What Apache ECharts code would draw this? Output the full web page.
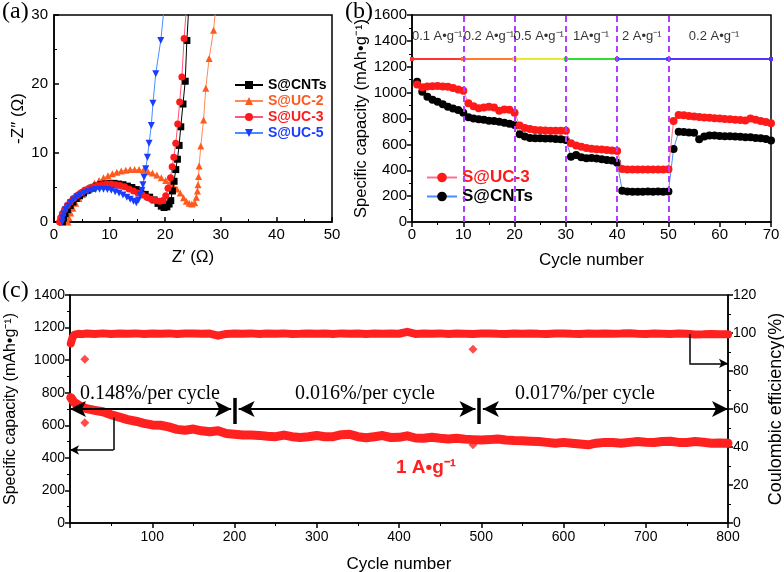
<!DOCTYPE html>
<html><head><meta charset="utf-8">
<script src="https://cdn.jsdelivr.net/npm/echarts/dist/echarts.min.js"></script>
<style>html,body{margin:0;padding:0;background:#fff}#c{width:784px;height:572px}</style>
</head><body><div id="c"></div><script>
// ---------- Panel (a): Nyquist data [Z', -Z''] ----------
const eisCNTs = [[1.5,0],[1.7,0.6],[2.0,1.2],[2.4,1.8],[2.9,2.4],[3.4,2.9],[4.0,3.4],[4.6,3.8],[5.3,4.2],[6.0,4.6],[6.8,4.9],[7.6,5.2],[8.4,5.4],[9.2,5.5],[10.0,5.6],[10.8,5.6],[11.6,5.5],[12.4,5.4],[13.2,5.2],[14.0,5.0],[14.8,4.7],[15.6,4.4],[16.4,4.0],[17.2,3.6],[18.0,3.2],[18.7,2.7],[19.3,2.3],[19.8,2.1],[20.3,2.2],[20.7,2.6],[21.0,3.1],[21.3,4.5],[21.6,5.9],[21.9,7.6],[22.2,9.1],[22.5,11.1],[22.8,13.8],[23.2,17.1],[23.6,20.4],[23.9,26.3],[24.3,32]];
const eisUC2 = [[2.5,0],[2.7,0.6],[3.0,1.3],[3.4,2.0],[3.9,2.7],[4.5,3.4],[5.1,4.0],[5.8,4.6],[6.5,5.1],[7.3,5.6],[8.1,6.0],[8.9,6.4],[9.7,6.7],[10.5,7.0],[11.3,7.2],[12.1,7.4],[12.9,7.5],[13.7,7.6],[14.5,7.6],[15.3,7.6],[16.1,7.5],[16.9,7.3],[17.7,7.1],[18.5,6.8],[19.3,6.4],[20.1,6.0],[20.8,5.6],[21.5,5.2],[22.1,4.8],[22.7,4.2],[23.3,3.5],[23.8,3.0],[24.3,2.7],[24.8,2.6],[25.3,2.8],[25.6,3.6],[25.8,4.5],[25.9,5.4],[26.0,6.6],[26.1,8.1],[26.4,11.0],[26.9,14.8],[27.3,19.4],[27.9,23.7],[28.7,27.8],[29.2,32]];
const eisUC3 = [[1.0,0],[1.2,0.6],[1.5,1.2],[1.9,1.8],[2.4,2.4],[2.9,2.9],[3.5,3.4],[4.1,3.8],[4.8,4.2],[5.5,4.6],[6.3,4.9],[7.1,5.1],[7.9,5.3],[8.7,5.4],[9.5,5.5],[10.3,5.5],[11.1,5.4],[11.9,5.3],[12.7,5.1],[13.5,4.8],[14.3,4.5],[15.1,4.2],[15.9,3.9],[16.7,3.6],[17.5,3.3],[18.3,3.1],[19.0,3.0],[19.6,3.1],[20.1,3.8],[20.5,4.9],[20.95,6.4],[21.25,8.0],[21.55,9.4],[21.9,11.4],[22.25,14.2],[22.6,17.4],[23.0,21.0],[23.4,26.6],[23.9,32]];
const eisUC5 = [[1.5,0],[1.6,0.6],[1.8,1.2],[2.1,1.8],[2.5,2.3],[3.0,2.8],[3.5,3.2],[4.1,3.6],[4.7,3.9],[5.4,4.2],[6.1,4.4],[6.8,4.6],[7.5,4.7],[8.2,4.75],[8.9,4.75],[9.6,4.7],[10.3,4.6],[11.0,4.4],[11.7,4.2],[12.4,3.9],[13.1,3.6],[13.7,3.3],[14.3,3.0],[14.8,2.8],[15.2,3.2],[15.5,3.9],[15.8,4.6],[16.0,5.4],[16.2,6.5],[16.5,7.7],[16.8,9.4],[17.1,11.4],[17.5,14.0],[17.8,17.2],[18.3,21.5],[19.2,26.3],[19.8,31]];

// ---------- Panel (b): rate capability, cycles 1..70 ----------
const rateUC3 = [1062,1042,1048,1050,1052,1048,1045,1035,1025,1014, 918,895,880,885,890,885,860,870,868,845, 745,726,718,712,710,708,706,705,705,706, 608,592,582,572,566,562,560,556,552,549, 410,405,405,405,405,405,405,405,405,408, 781,827,825,820,815,812,808,805,802,800, 797,795,790,788,785,800,790,780,772,763];
const rateCNTs = [1085,1007,969,945,930,910,891,878,866,845, 809,800,794,790,783,780,775,768,760,750, 678,660,650,647,647,645,645,642,640,634, 505,518,500,492,495,490,485,480,475,458, 242,235,234,234,234,235,234,235,234,236, 564,698,695,692,690,639,660,668,668,665, 663,662,660,658,655,655,650,648,642,630];
const rateEdges = [0,10,20,30,40,50,70];
const rateLevel = 1260;
const rateColors = ['#ff3333','#ff7a2a','#e8e830','#33dd33','#3355ff','#5533ff'];
const rateLabels = ['0.1 A•g⁻¹','0.2 A•g⁻¹','0.5 A•g⁻¹','1A•g⁻¹','2 A•g⁻¹','0.2 A•g⁻¹'];
const rateLabelX = [4.9,15,24.7,34.9,44.8,58.9];
const rateLabelY = 1432;

// ---------- Panel (c): long cycling at 1 A/g ----------
const cCycles = [1,3,5,10,15,20,30,40,50,60,70,80,90,100,110,120,130,140,150,160,170,180,190,200,210,220,230,240,250,260,270,280,290,300,310,320,330,340,350,360,370,380,390,400,410,420,430,440,450,460,470,480,490,500,510,520,530,540,550,560,570,580,590,600,610,620,630,640,650,660,670,680,690,700,710,720,730,740,750,760,770,780,790,800];
const cCapacity = [770,755,740,725,712,702,692,683,665,650,635,625,612,602,600,590,575,570,577,566,560,566,550,545,540,540,538,533,530,540,530,525,530,537,530,530,542,545,530,523,530,537,525,526,535,522,520,526,520,516,520,515,512,510,512,516,510,506,505,502,500,495,490,495,490,485,480,490,495,494,490,495,500,496,494,500,502,495,494,500,496,490,491,490];
const cCE = [94.5,97.5,99.0,99.6,99.4,99.7,99.5,99.8,99.5,99.7,99.6,99.8,99.5,99.7,99.6,99.8,99.5,99.7,99.8,99.6,99.7,98.6,99.5,99.7,99.6,99.8,99.5,99.7,99.6,99.8,99.5,99.6,99.8,99.6,99.7,99.5,99.8,99.6,99.7,99.5,99.7,99.6,99.8,99.6,100.6,99.5,99.7,99.6,99.8,99.5,99.7,99.6,99.5,99.7,99.8,99.6,99.5,99.7,99.6,99.8,99.6,99.5,99.7,99.8,99.6,99.5,99.7,99.6,99.8,99.6,99.7,99.9,99.6,99.5,99.7,99.6,99.5,99.7,99.6,99.2,99.3,99.5,99.4,99.3];
const capOutliers = [[18,615],[490,480]];
const ceOutliers = [[18,86.2],[490,91.4]];
const segBreaks = [0,200,497,800];
const segTexts = ['0.148%/per cycle','0.016%/per cycle','0.017%/per cycle'];
const arrowLevel = 700;

const FONT = '"Liberation Sans", Arial, Helvetica, sans-serif';
const SERIF = '"Liberation Serif", "Times New Roman", serif';

function mkAxis(p){
  return {
    type:'value', gridIndex:p.g, min:p.min, max:p.max, interval:p.iv, position:p.pos,
    name:p.name||'', nameLocation:'middle', nameGap:p.gap||0, nameRotate:p.rot,
    nameTextStyle:{color:'#000', fontSize:p.nfs||17, fontFamily:FONT},
    axisLine:{show:true,onZero:false,lineStyle:{color:'#000',width:1.5}},
    axisTick:{show:true,inside:!!p.inside,length:5,lineStyle:{color:'#000',width:1.5}},
    minorTick:{show:true,splitNumber:2,length:3,lineStyle:{color:'#000',width:1}},
    splitLine:{show:false}, minorSplitLine:{show:false},
    axisLabel:{color:'#000',fontSize:p.fs||15,fontFamily:FONT,margin:p.m||6,formatter:p.fmt||(v=>String(v))}
  };
}
const gridStyle = {show:true,borderColor:'#000',borderWidth:1.5,backgroundColor:'rgba(0,0,0,0)',containLabel:false,outerBoundsMode:'none'};

const series = [];
function eis(name,data,mcolor,lcolor,sym,z){
  return {name, type:'line', xAxisIndex:0, yAxisIndex:0, data, symbol:sym, symbolSize:7,
    showAllSymbol:true, clip:true, z,
    itemStyle:{color:mcolor}, lineStyle:{color:lcolor,width:1}};
}
series.push(eis('S@UC-2',eisUC2,'#ff5a1e','#ff8a55','triangle',2));
series.push(eis('S@CNTs',eisCNTs,'#000000','#000000','rect',3));
series.push(eis('S@UC-3',eisUC3,'#ff1a1a','#ff5577','circle',4));
series.push(eis('S@UC-5',eisUC5,'#1a3cff','#4a8cff','path://M0,0 L10,0 L5,9 Z',5));

// panel b
series.push({name:'S@CNTs ', type:'line', xAxisIndex:1, yAxisIndex:1,
  data: rateCNTs.map((v,i)=>[i+1,v]), symbol:'circle', symbolSize:8, showAllSymbol:true, z:3,
  itemStyle:{color:'#000'}, lineStyle:{color:'#4a8cff',width:1}});
series.push({name:'S@UC-3 ', type:'line', xAxisIndex:1, yAxisIndex:1,
  data: rateUC3.map((v,i)=>[i+1,v]), symbol:'circle', symbolSize:8, showAllSymbol:true, z:4,
  itemStyle:{color:'#ff1a1a'}, lineStyle:{color:'#ff7090',width:1}});
for(let k=0;k<rateEdges.length-1;k++){
  series.push({type:'line', xAxisIndex:1, yAxisIndex:1, z:2, silent:true,
    data:[[rateEdges[k],rateLevel],[rateEdges[k+1],rateLevel]],
    symbol:'rect', symbolSize:4, itemStyle:{color:rateColors[k]}, lineStyle:{color:rateColors[k],width:2},
    markLine: k===0 ? {silent:true, symbol:'none', label:{show:false},
      lineStyle:{color:'#b43cff',type:[6,4],width:2},
      data: rateEdges.slice(1,-1).map(x=>({xAxis:x}))} : undefined});
}
series.push({type:'scatter', xAxisIndex:1, yAxisIndex:1, silent:true, z:6,
  data: rateLabels.map((t,i)=>[rateLabelX[i],rateLabelY,t]), symbolSize:1,
  itemStyle:{color:'rgba(0,0,0,0)'},
  label:{show:true, position:'inside', formatter:p=>p.value[2], color:'#000', fontSize:13, fontFamily:FONT}});

// panel c
const arrowLines = [];
for(let k=0;k<segTexts.length;k++){
  const a = segBreaks[k] + (k===0?0:5), b = segBreaks[k+1] - (k===segTexts.length-1?0:4);
  arrowLines.push([{coord:[a,arrowLevel]},{coord:[b,arrowLevel]}]);
}
[200,497].forEach(x=>arrowLines.push([{coord:[x,608],symbol:'none',lineStyle:{width:3.5}},{coord:[x,768],symbol:'none'}]));
arrowLines.push([{coord:[53,648],symbol:'none',lineStyle:{width:1.5}},{coord:[53,448],symbol:'none'}]);
arrowLines.push([{coord:[53,448],symbol:'none',lineStyle:{width:1.5}},{coord:[0,448],symbol:'arrow',symbolSize:[7,9]}]);

series.push({name:'cap', type:'line', xAxisIndex:2, yAxisIndex:2, z:3,
  data: cCycles.map((c,i)=>[c,cCapacity[i]]), symbol:'none',
  lineStyle:{color:'#ff2020',width:9,join:'round',cap:'round'},
  markLine:{silent:true, symbol:['arrow','arrow'], symbolSize:[12,16], label:{show:false},
    lineStyle:{color:'#000',width:2,type:'solid'}, data: arrowLines}});
series.push({type:'scatter', xAxisIndex:2, yAxisIndex:2, z:3, data:capOutliers, symbol:'diamond', symbolSize:9, itemStyle:{color:'#ff2020'}});
series.push({name:'ce', type:'line', xAxisIndex:2, yAxisIndex:3, z:3,
  data: cCycles.map((c,i)=>[c,cCE[i]]), symbol:'none',
  lineStyle:{color:'#ff2020',width:8,join:'round',cap:'round'},
  markLine:{silent:true, symbol:'none', label:{show:false}, lineStyle:{color:'#000',width:1.5,type:'solid'},
    data:[[{coord:[753,99.5]},{coord:[753,84]}],
          [{coord:[753,84]},{coord:[800,84],symbol:'arrow',symbolSize:[7,9]}]]}});
series.push({type:'scatter', xAxisIndex:2, yAxisIndex:3, z:3, data:ceOutliers, symbol:'diamond', symbolSize:9, itemStyle:{color:'#ff2020'}});

const option = {
  animation:false,
  backgroundColor:'#fff',
  grid:[
    Object.assign({left:54,top:15,width:278,height:207},gridStyle),
    Object.assign({left:412,top:15,width:359,height:207},gridStyle),
    Object.assign({left:70,top:295,width:658,height:228},gridStyle)
  ],
  xAxis:[
    mkAxis({g:0,min:0,max:50,iv:10,inside:true,name:'Z′ (Ω)',gap:27,nfs:17,m:5}),
    mkAxis({g:1,min:0,max:70,iv:10,name:'Cycle number',gap:30,nfs:17,m:5}),
    mkAxis({g:2,min:0,max:800,iv:100,name:'Cycle number',gap:33,nfs:17,fs:14,m:7,fmt:v=>v===0?'':String(v)})
  ],
  yAxis:[
    mkAxis({g:0,min:0,max:30,iv:10,inside:true,name:'-Z″ (Ω)',gap:27,rot:90,nfs:17,m:6}),
    mkAxis({g:1,min:0,max:1600,iv:200,name:'Specific capacity (mAh•g⁻¹)',gap:38,rot:90,nfs:16.5,m:5}),
    mkAxis({g:2,min:0,max:1400,iv:200,name:'Specific capacity (mAh•g⁻¹)',gap:51,rot:90,nfs:16,fs:14,m:5}),
    mkAxis({g:2,min:0,max:120,iv:20,pos:'right',name:'Coulombic efficiency(%)',gap:37,rot:90,nfs:18,fs:14,m:5})
  ],
  legend:[
    {left:229,top:73,orient:'vertical',itemWidth:28,itemHeight:10,itemGap:2,selectedMode:false,
     textStyle:{fontSize:14,lineHeight:13,fontWeight:'bold',fontFamily:FONT},
     data:[{name:'S@CNTs',textStyle:{color:'#000'}},{name:'S@UC-2',textStyle:{color:'#ff5a1e'}},
           {name:'S@UC-3',textStyle:{color:'#ff1a1a'}},{name:'S@UC-5',textStyle:{color:'#1a3cff'}}]},
    {left:421,top:164,orient:'vertical',itemWidth:30,itemHeight:12,itemGap:2,selectedMode:false,
     textStyle:{fontSize:17,lineHeight:17,fontWeight:'bold',fontFamily:FONT},
     data:[{name:'S@UC-3 ',textStyle:{color:'#ff1a1a'}},{name:'S@CNTs ',textStyle:{color:'#000'}}]}
  ],
  graphic:[
    {type:'text',left:2,top:0,style:{text:'(a)',font:'24px '+SERIF,fill:'#000'}},
    {type:'text',left:345,top:0,style:{text:'(b)',font:'24px '+SERIF,fill:'#000'}},
    {type:'text',left:2,top:279,style:{text:'(c)',font:'24px '+SERIF,fill:'#000'}},
    {type:'text',x:150,y:394,style:{text:segTexts[0],font:'20px '+SERIF,fill:'#000',align:'center',verticalAlign:'middle'}},
    {type:'text',x:365,y:394,style:{text:segTexts[1],font:'20px '+SERIF,fill:'#000',align:'center',verticalAlign:'middle'}},
    {type:'text',x:585,y:394,style:{text:segTexts[2],font:'20px '+SERIF,fill:'#000',align:'center',verticalAlign:'middle'}},
    {type:'text',x:396,y:468,style:{text:'1 A•g⁻¹',font:'bold 19px '+FONT,fill:'#ff2020',verticalAlign:'middle'}}
  ],
  series
};
const chart = echarts.init(document.getElementById('c'));
chart.setOption(option);
</script></body></html>
